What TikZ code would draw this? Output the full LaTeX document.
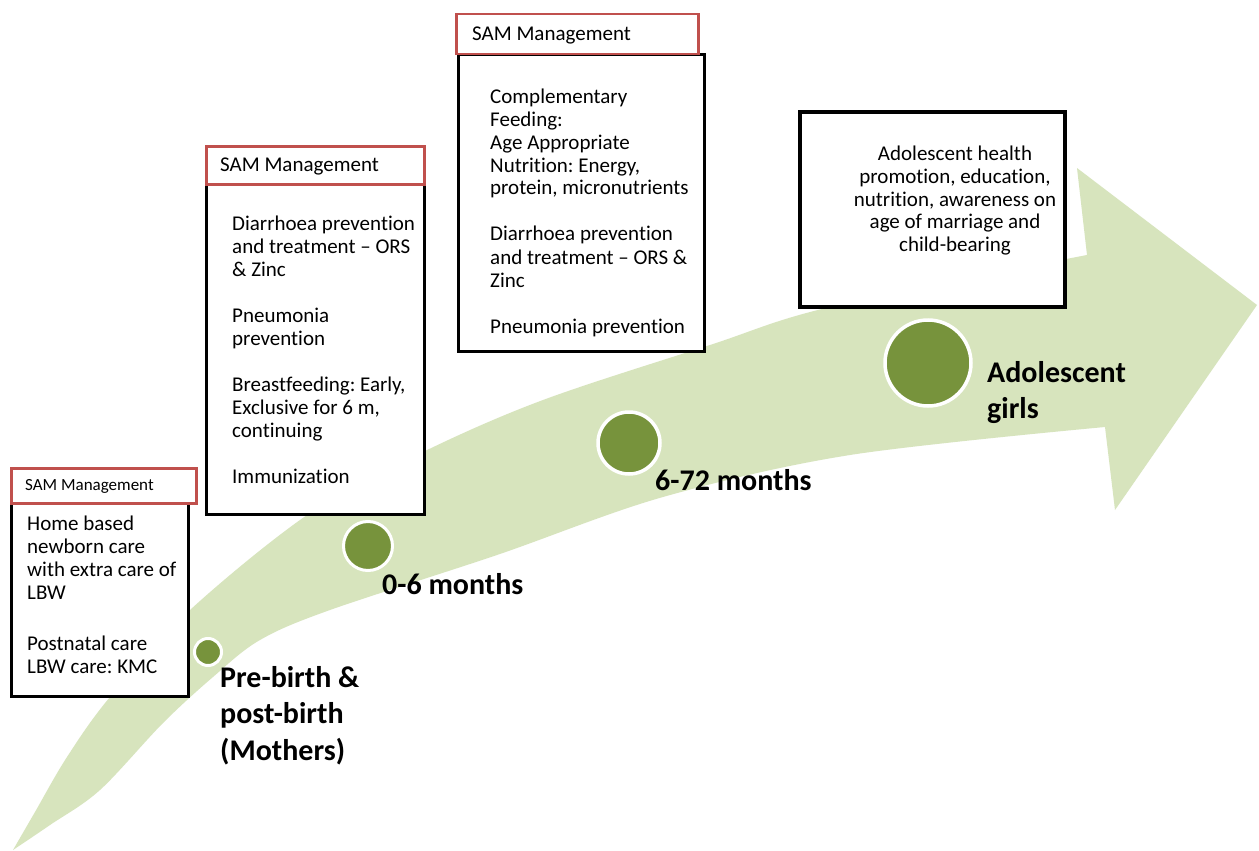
\documentclass[tikz,border=0pt]{standalone}
\usepackage{fontspec}
\setmainfont{Carlito}[Ligatures={TeX,NoCommon}]
\frenchspacing
\definecolor{lightgreen}{HTML}{D7E4BD}
\definecolor{darkgreen}{HTML}{77933C}
\definecolor{hdrred}{HTML}{C0504D}
\newcommand{\Ltab}[1]{\begin{tabular}[t]{@{}l@{}}#1\end{tabular}}
\newcommand{\Ctab}[1]{\begin{tabular}[t]{@{}c@{}}#1\end{tabular}}
\tikzset{
  bodybox/.style={draw=black, line width=3pt, fill=white, inner sep=0pt, anchor=north west},
  hdrbox/.style={draw=hdrred, line width=2.5pt, fill=white, inner sep=0pt, anchor=north west},
  dot/.style={circle, fill=darkgreen, draw=white, inner sep=0pt},
  txt/.style={anchor=base west, inner sep=0pt, font=\fontsize{21}{23}\selectfont},
  smalltxt/.style={anchor=base west, inner sep=0pt, font=\fontsize{17}{20}\selectfont},
  lbl/.style={anchor=base west, inner sep=0pt, font=\fontsize{30}{36.5}\selectfont\bfseries},
}
\begin{document}
\begin{tikzpicture}[x=1pt, y=-1pt]
\useasboundingbox (0,0) rectangle (1259,851);
\fill[white] (0,0) rectangle (1259,851);
% curved arrow
\fill[lightgreen] (13,850)
  -- plot[smooth, tension=0.55] coordinates {(13,850) (35,812) (67,757) (110,697) (190,610) (310,513) (423,452) (543,400) (710,345) (830,307) (1087,255)}
  -- (1077,168) -- (1257,305) -- (1115,510) -- (1105,427)
  -- plot[smooth, tension=0.55] coordinates {(1105,427) (850,455) (663,497) (497,555) (330,610) (260,640) (213,677) (163,723) (100,790) (50,825) (13,850)}
  -- cycle;
% milestones
\node[dot, minimum size=27pt, line width=3pt] (c1) at (208,652) {};
\node[dot, minimum size=49pt, line width=3pt] (c2) at (368,546) {};
\node[dot, minimum size=62pt, line width=3.5pt] (c3) at (629,443) {};
\node[dot, minimum size=86pt, line width=3.5pt] (c4) at (928,363) {};
\node[lbl] (l1) at (220,687) {\Ltab{Pre-birth \&\\post-birth\\(Mothers)}};
\node[lbl] (l2) at (382,594) {0-6 months};
\node[lbl] (l3) at (655,490) {6-72 months};
\node[lbl] (l4) at (987,382) {\Ltab{Adolescent\\girls}};
% box 1
\node[bodybox, minimum width=177pt, minimum height=193pt] (b1) at (10,502) {};
\node[hdrbox, minimum width=185pt, minimum height=35pt] (h1) at (10,467) {};
\node[smalltxt] (h1t) at (25,490) {SAM Management};
\node[txt] (t1) at (27,530) {\Ltab{Home based\\newborn care\\with extra care of\\LBW\\[28pt]Postnatal care\\LBW care: KMC}};
% box 2
\node[bodybox, minimum width=218pt, minimum height=330pt] (b2) at (205,183) {};
\node[hdrbox, minimum width=218pt, minimum height=38pt] (h2) at (205,145) {};
\node[txt] (h2t) at (220,171) {SAM Management};
\node[txt] (t2) at (232,230) {\Ltab{Diarrhoea prevention\\and treatment -- ORS\\\& Zinc\\[23pt]Pneumonia\\prevention\\[23pt]Breastfeeding: Early,\\Exclusive for 6 m,\\continuing\\[23pt]Immunization}};
% box 3
\node[bodybox, minimum width=246pt, minimum height=297pt] (b3) at (457,53) {};
\node[hdrbox, minimum width=242pt, minimum height=40pt] (h3) at (455,13) {};
\node[txt] (h3t) at (472,41) {SAM Management};
\node[txt] (t3) at (490,103) {\Ltab{Complementary\\Feeding:\\Age Appropriate\\Nutrition: Energy,\\protein, micronutrients\\[23pt]Diarrhoea prevention\\and treatment -- ORS \&\\Zinc\\[23pt]Pneumonia prevention}};
% box 4
\node[bodybox, line width=4pt, minimum width=265pt, minimum height=195pt] (b4) at (798,110) {};
\node[txt, anchor=base] (t4) at (955,160) {\Ctab{Adolescent health\\promotion, education,\\nutrition, awareness on\\age of marriage and\\child-bearing}};
\end{tikzpicture}
\end{document}
